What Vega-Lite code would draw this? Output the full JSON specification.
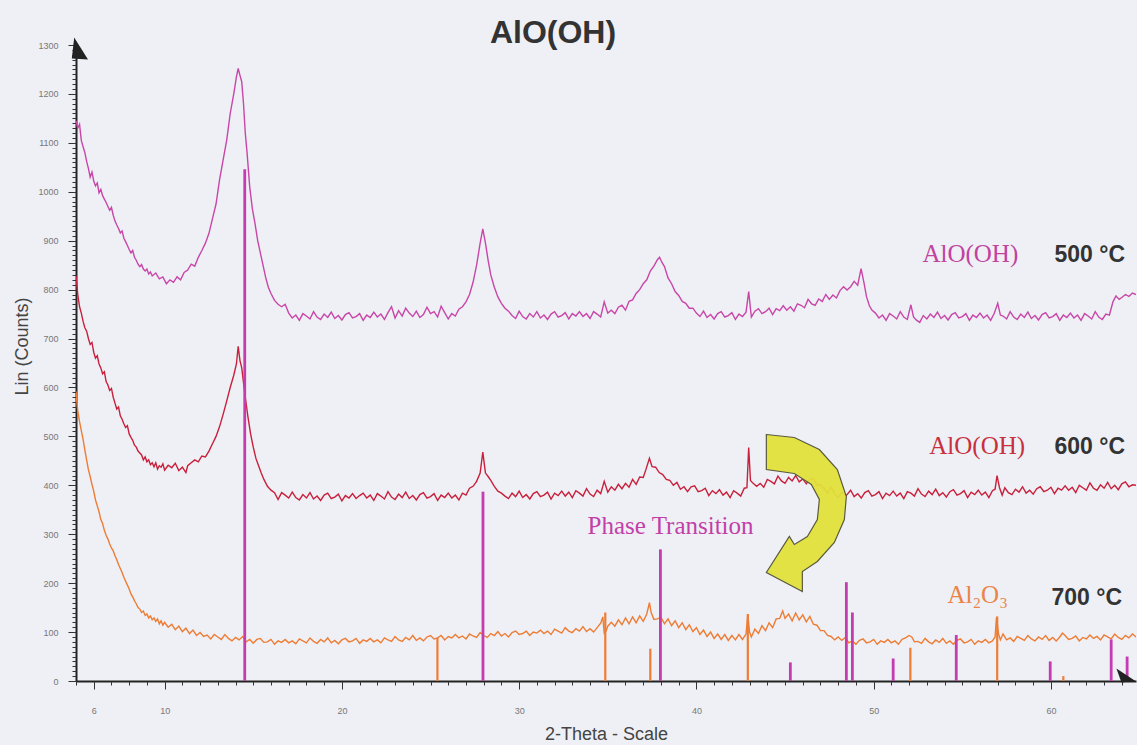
{
  "$schema": "https://vega.github.io/schema/vega-lite/v6.json",
  "width": 1060,
  "height": 636,
  "autosize": "none",
  "padding": {"left": 76, "top": 45, "right": 1, "bottom": 64},
  "background": "#eef0f5",
  "title": {"text": "AlO(OH)", "font": "Liberation Sans", "fontSize": 32, "fontWeight": "bold", "color": "#333333", "anchor": "middle", "frame": "group", "dx": -53, "dy": 13, "offset": 0},
  "config": {"view": {"stroke": null}, "axis": {"grid": false, "labelFont": "Liberation Sans", "titleFont": "Liberation Sans"}},
  "datasets": {
    "s500": [{"x":5,"y":1145},{"x":5.1,"y":1130},{"x":5.2,"y":1138},{"x":5.3,"y":1105},{"x":5.4,"y":1092},{"x":5.5,"y":1080},{"x":5.6,"y":1062},{"x":5.7,"y":1048},{"x":5.8,"y":1030},{"x":5.9,"y":1040},{"x":6.0,"y":1022},{"x":6.1,"y":1012},{"x":6.2,"y":1018},{"x":6.3,"y":998},{"x":6.4,"y":1005},{"x":6.5,"y":992},{"x":6.6,"y":985},{"x":6.7,"y":978},{"x":6.8,"y":970},{"x":6.9,"y":962},{"x":7.0,"y":968},{"x":7.1,"y":952},{"x":7.2,"y":940},{"x":7.3,"y":932},{"x":7.4,"y":925},{"x":7.5,"y":916},{"x":7.6,"y":920},{"x":7.7,"y":905},{"x":7.8,"y":898},{"x":7.9,"y":890},{"x":8.0,"y":882},{"x":8.1,"y":875},{"x":8.2,"y":880},{"x":8.3,"y":866},{"x":8.4,"y":860},{"x":8.5,"y":852},{"x":8.6,"y":847},{"x":8.7,"y":851},{"x":8.8,"y":842},{"x":8.9,"y":838},{"x":9.0,"y":842},{"x":9.1,"y":832},{"x":9.2,"y":836},{"x":9.3,"y":828},{"x":9.5,"y":834},{"x":9.7,"y":822},{"x":9.9,"y":826},{"x":10.1,"y":812},{"x":10.3,"y":820},{"x":10.5,"y":815},{"x":10.7,"y":826},{"x":10.9,"y":820},{"x":11.1,"y":835},{"x":11.3,"y":840},{"x":11.5,"y":852},{"x":11.7,"y":848},{"x":11.9,"y":866},{"x":12.1,"y":880},{"x":12.3,"y":895},{"x":12.5,"y":915},{"x":12.7,"y":945},{"x":12.9,"y":975},{"x":13.1,"y":1025},{"x":13.3,"y":1065},{"x":13.5,"y":1105},{"x":13.7,"y":1160},{"x":13.9,"y":1200},{"x":14.05,"y":1235},{"x":14.15,"y":1252},{"x":14.25,"y":1238},{"x":14.35,"y":1225},{"x":14.45,"y":1180},{"x":14.55,"y":1120},{"x":14.65,"y":1080},{"x":14.8,"y":1010},{"x":14.95,"y":965},{"x":15.1,"y":935},{"x":15.25,"y":900},{"x":15.4,"y":875},{"x":15.55,"y":850},{"x":15.7,"y":825},{"x":15.85,"y":805},{"x":16.0,"y":792},{"x":16.2,"y":778},{"x":16.4,"y":770},{"x":16.6,"y":765},{"x":16.8,"y":770},{"x":17.0,"y":752},{"x":17.2,"y":742},{"x":17.4,"y":748},{"x":17.6,"y":737},{"x":17.8,"y":751},{"x":18.0,"y":746},{"x":18.2,"y":740},{"x":18.4,"y":755},{"x":18.6,"y":744},{"x":18.8,"y":739},{"x":19.0,"y":750},{"x":19.2,"y":743},{"x":19.4,"y":754},{"x":19.6,"y":741},{"x":19.8,"y":747},{"x":20.0,"y":738},{"x":20.2,"y":749},{"x":20.4,"y":753},{"x":20.6,"y":742},{"x":20.8,"y":745},{"x":21.0,"y":751},{"x":21.2,"y":737},{"x":21.4,"y":748},{"x":21.6,"y":743},{"x":21.8,"y":754},{"x":22.0,"y":744},{"x":22.2,"y":750},{"x":22.4,"y":739},{"x":22.6,"y":753},{"x":22.8,"y":765},{"x":23.0,"y":742},{"x":23.2,"y":757},{"x":23.4,"y":746},{"x":23.6,"y":762},{"x":23.8,"y":752},{"x":24.0,"y":745},{"x":24.2,"y":756},{"x":24.4,"y":743},{"x":24.6,"y":749},{"x":24.8,"y":764},{"x":25.0,"y":751},{"x":25.2,"y":755},{"x":25.4,"y":744},{"x":25.6,"y":766},{"x":25.8,"y":753},{"x":26.0,"y":740},{"x":26.2,"y":751},{"x":26.4,"y":746},{"x":26.6,"y":760},{"x":26.8,"y":765},{"x":27.0,"y":775},{"x":27.2,"y":790},{"x":27.4,"y":815},{"x":27.6,"y":850},{"x":27.8,"y":895},{"x":27.95,"y":924},{"x":28.1,"y":895},{"x":28.25,"y":860},{"x":28.4,"y":830},{"x":28.6,"y":805},{"x":28.8,"y":785},{"x":29.0,"y":772},{"x":29.2,"y":762},{"x":29.4,"y":756},{"x":29.6,"y":747},{"x":29.8,"y":741},{"x":30.0,"y":756},{"x":30.2,"y":745},{"x":30.4,"y":740},{"x":30.6,"y":751},{"x":30.8,"y":744},{"x":31.0,"y":755},{"x":31.2,"y":742},{"x":31.4,"y":748},{"x":31.6,"y":739},{"x":31.8,"y":750},{"x":32.0,"y":755},{"x":32.2,"y":744},{"x":32.4,"y":747},{"x":32.6,"y":753},{"x":32.8,"y":740},{"x":33.0,"y":751},{"x":33.2,"y":746},{"x":33.4,"y":755},{"x":33.6,"y":745},{"x":33.8,"y":751},{"x":34.0,"y":741},{"x":34.2,"y":755},{"x":34.4,"y":750},{"x":34.6,"y":744},{"x":34.8,"y":775},{"x":35.0,"y":752},{"x":35.2,"y":758},{"x":35.4,"y":751},{"x":35.6,"y":764},{"x":35.8,"y":768},{"x":36.0,"y":758},{"x":36.2,"y":776},{"x":36.4,"y":779},{"x":36.6,"y":792},{"x":36.8,"y":800},{"x":37.0,"y":812},{"x":37.2,"y":820},{"x":37.4,"y":838},{"x":37.6,"y":848},{"x":37.8,"y":861},{"x":37.92,"y":866},{"x":38.05,"y":856},{"x":38.2,"y":847},{"x":38.4,"y":824},{"x":38.6,"y":812},{"x":38.8,"y":796},{"x":39.0,"y":788},{"x":39.2,"y":776},{"x":39.4,"y":772},{"x":39.6,"y":762},{"x":39.8,"y":762},{"x":40.0,"y":752},{"x":40.2,"y":745},{"x":40.4,"y":756},{"x":40.6,"y":743},{"x":40.8,"y":749},{"x":41.0,"y":740},{"x":41.2,"y":751},{"x":41.4,"y":755},{"x":41.6,"y":744},{"x":41.8,"y":747},{"x":42.0,"y":753},{"x":42.2,"y":739},{"x":42.4,"y":750},{"x":42.6,"y":745},{"x":42.8,"y":754},{"x":42.95,"y":796},{"x":43.1,"y":744},{"x":43.3,"y":756},{"x":43.5,"y":761},{"x":43.7,"y":751},{"x":43.9,"y":755},{"x":44.1,"y":762},{"x":44.3,"y":749},{"x":44.5,"y":761},{"x":44.7,"y":757},{"x":44.9,"y":767},{"x":45.1,"y":758},{"x":45.3,"y":765},{"x":45.5,"y":756},{"x":45.7,"y":771},{"x":45.9,"y":768},{"x":46.1,"y":763},{"x":46.3,"y":780},{"x":46.5,"y":771},{"x":46.7,"y":768},{"x":46.9,"y":781},{"x":47.1,"y":776},{"x":47.3,"y":790},{"x":47.5,"y":780},{"x":47.7,"y":789},{"x":47.9,"y":783},{"x":48.1,"y":798},{"x":48.3,"y":806},{"x":48.5,"y":799},{"x":48.7,"y":806},{"x":48.9,"y":817},{"x":49.1,"y":809},{"x":49.29,"y":843},{"x":49.45,"y":815},{"x":49.6,"y":785},{"x":49.76,"y":767},{"x":49.9,"y":758},{"x":50.1,"y":752},{"x":50.3,"y":742},{"x":50.5,"y":748},{"x":50.7,"y":737},{"x":50.9,"y":751},{"x":51.1,"y":746},{"x":51.3,"y":740},{"x":51.5,"y":755},{"x":51.7,"y":744},{"x":51.9,"y":739},{"x":52.1,"y":769},{"x":52.25,"y":744},{"x":52.4,"y":738},{"x":52.6,"y":733},{"x":52.8,"y":747},{"x":53.0,"y":740},{"x":53.2,"y":750},{"x":53.4,"y":743},{"x":53.6,"y":754},{"x":53.8,"y":741},{"x":54.0,"y":747},{"x":54.2,"y":738},{"x":54.4,"y":749},{"x":54.6,"y":753},{"x":54.8,"y":742},{"x":55.0,"y":745},{"x":55.2,"y":751},{"x":55.4,"y":737},{"x":55.6,"y":748},{"x":55.8,"y":743},{"x":56.0,"y":752},{"x":56.2,"y":742},{"x":56.4,"y":748},{"x":56.6,"y":737},{"x":56.8,"y":751},{"x":57.0,"y":772},{"x":57.15,"y":748},{"x":57.3,"y":746},{"x":57.5,"y":740},{"x":57.7,"y":755},{"x":57.9,"y":744},{"x":58.1,"y":739},{"x":58.3,"y":750},{"x":58.5,"y":743},{"x":58.7,"y":754},{"x":58.9,"y":741},{"x":59.1,"y":747},{"x":59.3,"y":738},{"x":59.5,"y":749},{"x":59.7,"y":753},{"x":59.9,"y":742},{"x":60.1,"y":745},{"x":60.3,"y":751},{"x":60.5,"y":737},{"x":60.7,"y":748},{"x":60.9,"y":743},{"x":61.1,"y":752},{"x":61.3,"y":742},{"x":61.5,"y":748},{"x":61.7,"y":737},{"x":61.9,"y":751},{"x":62.1,"y":746},{"x":62.3,"y":740},{"x":62.5,"y":755},{"x":62.7,"y":744},{"x":62.9,"y":739},{"x":63.1,"y":750},{"x":63.3,"y":748},{"x":63.5,"y":775},{"x":63.67,"y":787},{"x":63.85,"y":780},{"x":64.0,"y":784},{"x":64.2,"y":790},{"x":64.4,"y":786},{"x":64.6,"y":793},{"x":64.8,"y":790}],
    "s600": [{"x":5,"y":828},{"x":5.1,"y":790},{"x":5.2,"y":765},{"x":5.3,"y":752},{"x":5.4,"y":735},{"x":5.5,"y":722},{"x":5.6,"y":715},{"x":5.7,"y":700},{"x":5.8,"y":688},{"x":5.9,"y":692},{"x":6.0,"y":672},{"x":6.1,"y":660},{"x":6.2,"y":665},{"x":6.3,"y":648},{"x":6.4,"y":640},{"x":6.5,"y":628},{"x":6.6,"y":632},{"x":6.7,"y":612},{"x":6.8,"y":605},{"x":6.9,"y":594},{"x":7.0,"y":598},{"x":7.1,"y":580},{"x":7.2,"y":568},{"x":7.3,"y":556},{"x":7.4,"y":560},{"x":7.5,"y":542},{"x":7.6,"y":535},{"x":7.7,"y":526},{"x":7.8,"y":518},{"x":7.9,"y":522},{"x":8.0,"y":505},{"x":8.1,"y":498},{"x":8.2,"y":492},{"x":8.3,"y":482},{"x":8.4,"y":478},{"x":8.5,"y":470},{"x":8.6,"y":466},{"x":8.7,"y":462},{"x":8.8,"y":452},{"x":8.9,"y":458},{"x":9.0,"y":448},{"x":9.1,"y":452},{"x":9.2,"y":442},{"x":9.3,"y":446},{"x":9.4,"y":438},{"x":9.5,"y":446},{"x":9.6,"y":433},{"x":9.7,"y":440},{"x":9.8,"y":437},{"x":9.9,"y":444},{"x":10.0,"y":431},{"x":10.2,"y":441},{"x":10.4,"y":436},{"x":10.6,"y":445},{"x":10.8,"y":430},{"x":11.0,"y":437},{"x":11.2,"y":426},{"x":11.3,"y":440},{"x":11.5,"y":446},{"x":11.7,"y":452},{"x":11.9,"y":448},{"x":12.1,"y":460},{"x":12.3,"y":458},{"x":12.5,"y":470},{"x":12.7,"y":485},{"x":12.9,"y":500},{"x":13.1,"y":520},{"x":13.3,"y":545},{"x":13.5,"y":572},{"x":13.7,"y":600},{"x":13.9,"y":625},{"x":14.05,"y":648},{"x":14.15,"y":684},{"x":14.25,"y":655},{"x":14.35,"y":640},{"x":14.45,"y":610},{"x":14.55,"y":580},{"x":14.7,"y":540},{"x":14.85,"y":505},{"x":15.0,"y":478},{"x":15.15,"y":455},{"x":15.3,"y":440},{"x":15.45,"y":425},{"x":15.6,"y":412},{"x":15.8,"y":398},{"x":16.0,"y":390},{"x":16.2,"y":385},{"x":16.4,"y":371},{"x":16.6,"y":385},{"x":16.8,"y":380},{"x":17.0,"y":374},{"x":17.2,"y":386},{"x":17.4,"y":375},{"x":17.6,"y":370},{"x":17.8,"y":381},{"x":18.0,"y":374},{"x":18.2,"y":385},{"x":18.4,"y":372},{"x":18.6,"y":378},{"x":18.8,"y":369},{"x":19.0,"y":380},{"x":19.2,"y":384},{"x":19.4,"y":373},{"x":19.6,"y":376},{"x":19.8,"y":382},{"x":20.0,"y":368},{"x":20.2,"y":379},{"x":20.4,"y":374},{"x":20.6,"y":383},{"x":20.8,"y":373},{"x":21.0,"y":379},{"x":21.2,"y":384},{"x":21.4,"y":374},{"x":21.6,"y":380},{"x":21.8,"y":369},{"x":22.0,"y":383},{"x":22.2,"y":378},{"x":22.4,"y":372},{"x":22.6,"y":387},{"x":22.8,"y":376},{"x":23.0,"y":371},{"x":23.2,"y":382},{"x":23.4,"y":375},{"x":23.6,"y":386},{"x":23.8,"y":373},{"x":24.0,"y":379},{"x":24.2,"y":370},{"x":24.4,"y":381},{"x":24.6,"y":385},{"x":24.8,"y":374},{"x":25.0,"y":377},{"x":25.2,"y":383},{"x":25.4,"y":369},{"x":25.6,"y":380},{"x":25.8,"y":375},{"x":26.0,"y":384},{"x":26.2,"y":374},{"x":26.4,"y":380},{"x":26.6,"y":370},{"x":26.8,"y":384},{"x":27.0,"y":380},{"x":27.2,"y":394},{"x":27.4,"y":398},{"x":27.6,"y":408},{"x":27.8,"y":425},{"x":27.95,"y":468},{"x":28.1,"y":425},{"x":28.25,"y":418},{"x":28.4,"y":410},{"x":28.6,"y":398},{"x":28.8,"y":388},{"x":29.0,"y":384},{"x":29.2,"y":378},{"x":29.4,"y":373},{"x":29.6,"y":384},{"x":29.8,"y":377},{"x":30.0,"y":388},{"x":30.2,"y":375},{"x":30.4,"y":381},{"x":30.6,"y":372},{"x":30.8,"y":383},{"x":31.0,"y":387},{"x":31.2,"y":377},{"x":31.4,"y":380},{"x":31.6,"y":386},{"x":31.8,"y":372},{"x":32.0,"y":384},{"x":32.2,"y":379},{"x":32.4,"y":388},{"x":32.6,"y":378},{"x":32.8,"y":386},{"x":33.0,"y":375},{"x":33.2,"y":389},{"x":33.4,"y":384},{"x":33.6,"y":378},{"x":33.8,"y":393},{"x":34.0,"y":382},{"x":34.2,"y":377},{"x":34.4,"y":390},{"x":34.6,"y":383},{"x":34.8,"y":408},{"x":35.0,"y":386},{"x":35.2,"y":397},{"x":35.4,"y":390},{"x":35.6,"y":402},{"x":35.8,"y":393},{"x":36.0,"y":404},{"x":36.2,"y":396},{"x":36.4,"y":412},{"x":36.6,"y":402},{"x":36.8,"y":417},{"x":37.0,"y":416},{"x":37.15,"y":432},{"x":37.35,"y":455},{"x":37.5,"y":438},{"x":37.7,"y":437},{"x":37.9,"y":426},{"x":38.1,"y":422},{"x":38.3,"y":412},{"x":38.5,"y":410},{"x":38.7,"y":400},{"x":38.9,"y":406},{"x":39.1,"y":392},{"x":39.3,"y":397},{"x":39.5,"y":387},{"x":39.7,"y":397},{"x":39.9,"y":399},{"x":40.1,"y":387},{"x":40.3,"y":389},{"x":40.5,"y":394},{"x":40.7,"y":379},{"x":40.9,"y":389},{"x":41.1,"y":383},{"x":41.3,"y":391},{"x":41.5,"y":380},{"x":41.7,"y":386},{"x":41.9,"y":375},{"x":42.1,"y":389},{"x":42.3,"y":384},{"x":42.5,"y":378},{"x":42.7,"y":394},{"x":42.85,"y":395},{"x":42.95,"y":477},{"x":43.05,"y":410},{"x":43.2,"y":404},{"x":43.4,"y":398},{"x":43.6,"y":404},{"x":43.8,"y":396},{"x":44.0,"y":412},{"x":44.2,"y":408},{"x":44.4,"y":403},{"x":44.6,"y":419},{"x":44.8,"y":409},{"x":45.0,"y":404},{"x":45.2,"y":416},{"x":45.4,"y":409},{"x":45.6,"y":420},{"x":45.8,"y":407},{"x":46.0,"y":413},{"x":46.2,"y":403},{"x":46.4,"y":413},{"x":46.6,"y":414},{"x":46.8,"y":400},{"x":47.0,"y":401},{"x":47.2,"y":393},{"x":47.4,"y":384},{"x":47.6,"y":396},{"x":47.8,"y":383},{"x":48.0,"y":375},{"x":48.2,"y":386},{"x":48.45,"y":379},{"x":48.7,"y":390},{"x":48.9,"y":377},{"x":49.1,"y":383},{"x":49.3,"y":374},{"x":49.5,"y":385},{"x":49.7,"y":389},{"x":49.9,"y":378},{"x":50.1,"y":381},{"x":50.3,"y":387},{"x":50.5,"y":373},{"x":50.7,"y":384},{"x":50.9,"y":379},{"x":51.1,"y":388},{"x":51.3,"y":378},{"x":51.5,"y":384},{"x":51.7,"y":373},{"x":51.9,"y":387},{"x":52.1,"y":384},{"x":52.3,"y":378},{"x":52.5,"y":393},{"x":52.7,"y":382},{"x":52.9,"y":377},{"x":53.1,"y":388},{"x":53.3,"y":381},{"x":53.5,"y":392},{"x":53.7,"y":379},{"x":53.9,"y":385},{"x":54.1,"y":376},{"x":54.3,"y":387},{"x":54.5,"y":391},{"x":54.7,"y":380},{"x":54.9,"y":383},{"x":55.1,"y":389},{"x":55.3,"y":375},{"x":55.5,"y":386},{"x":55.7,"y":381},{"x":55.9,"y":390},{"x":56.1,"y":380},{"x":56.3,"y":386},{"x":56.5,"y":375},{"x":56.7,"y":389},{"x":56.85,"y":392},{"x":56.96,"y":420},{"x":57.1,"y":395},{"x":57.25,"y":380},{"x":57.4,"y":395},{"x":57.6,"y":385},{"x":57.8,"y":381},{"x":58.0,"y":392},{"x":58.2,"y":386},{"x":58.4,"y":397},{"x":58.6,"y":384},{"x":58.8,"y":390},{"x":59.0,"y":382},{"x":59.2,"y":393},{"x":59.4,"y":397},{"x":59.6,"y":387},{"x":59.8,"y":390},{"x":60.0,"y":396},{"x":60.2,"y":383},{"x":60.4,"y":394},{"x":60.6,"y":390},{"x":60.8,"y":399},{"x":61.0,"y":390},{"x":61.2,"y":396},{"x":61.4,"y":385},{"x":61.6,"y":400},{"x":61.8,"y":395},{"x":62.0,"y":390},{"x":62.2,"y":405},{"x":62.4,"y":394},{"x":62.6,"y":390},{"x":62.8,"y":401},{"x":63.0,"y":394},{"x":63.2,"y":406},{"x":63.4,"y":393},{"x":63.6,"y":400},{"x":63.8,"y":391},{"x":64.0,"y":403},{"x":64.2,"y":407},{"x":64.4,"y":397},{"x":64.6,"y":401},{"x":64.8,"y":400}],
    "s700": [{"x":5,"y":592},{"x":5.05,"y":570},{"x":5.1,"y":552},{"x":5.2,"y":530},{"x":5.3,"y":512},{"x":5.4,"y":494},{"x":5.5,"y":472},{"x":5.6,"y":452},{"x":5.7,"y":432},{"x":5.8,"y":418},{"x":5.9,"y":402},{"x":6.0,"y":388},{"x":6.1,"y":370},{"x":6.2,"y":358},{"x":6.3,"y":346},{"x":6.4,"y":330},{"x":6.5,"y":322},{"x":6.6,"y":308},{"x":6.7,"y":298},{"x":6.8,"y":290},{"x":6.9,"y":280},{"x":7.0,"y":272},{"x":7.1,"y":266},{"x":7.2,"y":256},{"x":7.3,"y":248},{"x":7.4,"y":238},{"x":7.5,"y":230},{"x":7.6,"y":222},{"x":7.7,"y":212},{"x":7.8,"y":204},{"x":7.9,"y":196},{"x":8.0,"y":188},{"x":8.1,"y":178},{"x":8.2,"y":172},{"x":8.3,"y":164},{"x":8.4,"y":158},{"x":8.5,"y":150},{"x":8.6,"y":147},{"x":8.7,"y":140},{"x":8.8,"y":143},{"x":8.9,"y":134},{"x":9.0,"y":137},{"x":9.1,"y":129},{"x":9.2,"y":133},{"x":9.3,"y":125},{"x":9.4,"y":129},{"x":9.5,"y":122},{"x":9.6,"y":127},{"x":9.7,"y":117},{"x":9.8,"y":123},{"x":9.9,"y":114},{"x":10.0,"y":120},{"x":10.2,"y":110},{"x":10.4,"y":116},{"x":10.6,"y":105},{"x":10.8,"y":112},{"x":11.0,"y":101},{"x":11.2,"y":108},{"x":11.4,"y":97},{"x":11.6,"y":104},{"x":11.8,"y":93},{"x":12.0,"y":99},{"x":12.2,"y":91},{"x":12.4,"y":94},{"x":12.6,"y":86},{"x":12.8,"y":95},{"x":13.0,"y":90},{"x":13.2,"y":85},{"x":13.4,"y":95},{"x":13.6,"y":87},{"x":13.8,"y":82},{"x":14.0,"y":89},{"x":14.2,"y":84},{"x":14.4,"y":91},{"x":14.6,"y":80},{"x":14.8,"y":85},{"x":15.0,"y":77},{"x":15.2,"y":85},{"x":15.4,"y":87},{"x":15.6,"y":79},{"x":15.8,"y":80},{"x":16.0,"y":85},{"x":16.2,"y":75},{"x":16.4,"y":82},{"x":16.6,"y":79},{"x":16.8,"y":85},{"x":17.0,"y":78},{"x":17.2,"y":82},{"x":17.4,"y":76},{"x":17.6,"y":86},{"x":17.8,"y":82},{"x":18.0,"y":78},{"x":18.2,"y":88},{"x":18.4,"y":81},{"x":18.6,"y":77},{"x":18.8,"y":85},{"x":19.0,"y":80},{"x":19.2,"y":88},{"x":19.4,"y":78},{"x":19.6,"y":83},{"x":19.8,"y":76},{"x":20.0,"y":84},{"x":20.2,"y":87},{"x":20.4,"y":80},{"x":20.6,"y":82},{"x":20.8,"y":87},{"x":21.0,"y":77},{"x":21.2,"y":84},{"x":21.4,"y":81},{"x":21.6,"y":87},{"x":21.8,"y":80},{"x":22.0,"y":84},{"x":22.2,"y":78},{"x":22.4,"y":88},{"x":22.6,"y":84},{"x":22.8,"y":81},{"x":23.0,"y":91},{"x":23.2,"y":84},{"x":23.4,"y":81},{"x":23.6,"y":89},{"x":23.8,"y":84},{"x":24.0,"y":93},{"x":24.2,"y":83},{"x":24.4,"y":88},{"x":24.6,"y":82},{"x":24.8,"y":90},{"x":25.0,"y":93},{"x":25.2,"y":86},{"x":25.4,"y":88},{"x":25.6,"y":93},{"x":25.8,"y":84},{"x":26.0,"y":91},{"x":26.2,"y":88},{"x":26.4,"y":95},{"x":26.6,"y":88},{"x":26.8,"y":92},{"x":27.0,"y":86},{"x":27.2,"y":96},{"x":27.4,"y":92},{"x":27.6,"y":89},{"x":27.8,"y":99},{"x":28.0,"y":93},{"x":28.2,"y":89},{"x":28.4,"y":97},{"x":28.6,"y":93},{"x":28.8,"y":101},{"x":29.0,"y":92},{"x":29.2,"y":97},{"x":29.4,"y":90},{"x":29.6,"y":99},{"x":29.8,"y":102},{"x":30.0,"y":95},{"x":30.2,"y":97},{"x":30.4,"y":102},{"x":30.6,"y":93},{"x":30.8,"y":100},{"x":31.0,"y":98},{"x":31.2,"y":104},{"x":31.4,"y":97},{"x":31.6,"y":102},{"x":31.8,"y":95},{"x":32.0,"y":106},{"x":32.2,"y":102},{"x":32.4,"y":98},{"x":32.6,"y":109},{"x":32.8,"y":102},{"x":33.0,"y":99},{"x":33.2,"y":107},{"x":33.4,"y":102},{"x":33.6,"y":111},{"x":33.8,"y":101},{"x":34.0,"y":107},{"x":34.2,"y":100},{"x":34.4,"y":109},{"x":34.6,"y":118},{"x":34.72,"y":131},{"x":34.8,"y":98},{"x":34.9,"y":102},{"x":35.0,"y":112},{"x":35.2,"y":120},{"x":35.4,"y":112},{"x":35.6,"y":125},{"x":35.8,"y":115},{"x":36.0,"y":129},{"x":36.2,"y":117},{"x":36.4,"y":131},{"x":36.6,"y":119},{"x":36.8,"y":133},{"x":37.0,"y":122},{"x":37.2,"y":137},{"x":37.35,"y":160},{"x":37.45,"y":140},{"x":37.6,"y":126},{"x":37.8,"y":127},{"x":38.0,"y":130},{"x":38.2,"y":117},{"x":38.4,"y":127},{"x":38.6,"y":113},{"x":38.8,"y":123},{"x":39.0,"y":109},{"x":39.2,"y":119},{"x":39.4,"y":105},{"x":39.6,"y":115},{"x":39.8,"y":101},{"x":40.0,"y":109},{"x":40.2,"y":95},{"x":40.4,"y":104},{"x":40.6,"y":91},{"x":40.8,"y":100},{"x":41.0,"y":87},{"x":41.2,"y":96},{"x":41.4,"y":85},{"x":41.6,"y":95},{"x":41.8,"y":83},{"x":42.0,"y":93},{"x":42.2,"y":84},{"x":42.4,"y":95},{"x":42.6,"y":85},{"x":42.8,"y":96},{"x":42.9,"y":136},{"x":43.0,"y":100},{"x":43.1,"y":90},{"x":43.3,"y":106},{"x":43.5,"y":97},{"x":43.7,"y":113},{"x":43.9,"y":103},{"x":44.1,"y":119},{"x":44.3,"y":109},{"x":44.5,"y":127},{"x":44.7,"y":128},{"x":44.87,"y":143},{"x":45.0,"y":128},{"x":45.2,"y":137},{"x":45.4,"y":123},{"x":45.6,"y":139},{"x":45.8,"y":125},{"x":46.0,"y":135},{"x":46.2,"y":121},{"x":46.4,"y":132},{"x":46.6,"y":116},{"x":46.8,"y":114},{"x":47.0,"y":103},{"x":47.2,"y":103},{"x":47.4,"y":93},{"x":47.6,"y":91},{"x":47.8,"y":84},{"x":48.0,"y":90},{"x":48.2,"y":83},{"x":48.4,"y":89},{"x":48.6,"y":78},{"x":48.8,"y":82},{"x":49.0,"y":75},{"x":49.2,"y":83},{"x":49.4,"y":86},{"x":49.6,"y":78},{"x":49.8,"y":80},{"x":50.0,"y":85},{"x":50.2,"y":75},{"x":50.4,"y":82},{"x":50.6,"y":79},{"x":50.8,"y":85},{"x":51.0,"y":78},{"x":51.2,"y":82},{"x":51.4,"y":75},{"x":51.6,"y":85},{"x":51.8,"y":88},{"x":52.0,"y":93},{"x":52.15,"y":90},{"x":52.3,"y":80},{"x":52.5,"y":81},{"x":52.7,"y":77},{"x":52.9,"y":87},{"x":53.1,"y":80},{"x":53.3,"y":76},{"x":53.5,"y":84},{"x":53.7,"y":79},{"x":53.9,"y":87},{"x":54.1,"y":77},{"x":54.3,"y":82},{"x":54.5,"y":75},{"x":54.7,"y":83},{"x":54.9,"y":86},{"x":55.1,"y":78},{"x":55.3,"y":80},{"x":55.5,"y":85},{"x":55.7,"y":75},{"x":55.9,"y":82},{"x":56.1,"y":79},{"x":56.3,"y":85},{"x":56.5,"y":78},{"x":56.7,"y":82},{"x":56.85,"y":90},{"x":56.93,"y":130},{"x":57.05,"y":95},{"x":57.15,"y":84},{"x":57.3,"y":96},{"x":57.5,"y":84},{"x":57.7,"y":88},{"x":57.9,"y":81},{"x":58.1,"y":91},{"x":58.3,"y":87},{"x":58.5,"y":83},{"x":58.7,"y":93},{"x":58.9,"y":86},{"x":59.1,"y":82},{"x":59.3,"y":90},{"x":59.5,"y":85},{"x":59.7,"y":93},{"x":59.9,"y":83},{"x":60.1,"y":89},{"x":60.3,"y":82},{"x":60.5,"y":90},{"x":60.65,"y":98},{"x":60.8,"y":93},{"x":61.0,"y":85},{"x":61.2,"y":87},{"x":61.4,"y":92},{"x":61.6,"y":82},{"x":61.8,"y":89},{"x":62.0,"y":86},{"x":62.2,"y":94},{"x":62.4,"y":87},{"x":62.6,"y":91},{"x":62.8,"y":84},{"x":63.0,"y":94},{"x":63.2,"y":90},{"x":63.4,"y":86},{"x":63.6,"y":96},{"x":63.8,"y":89},{"x":64.0,"y":85},{"x":64.2,"y":93},{"x":64.4,"y":88},{"x":64.6,"y":96},{"x":64.8,"y":90}],
    "refBoehmite": [{"x":14.52,"h":1046},{"x":27.96,"h":387},{"x":37.97,"h":269},{"x":45.3,"h":38},{"x":48.46,"h":202},{"x":48.8,"h":140},{"x":51.1,"h":46},{"x":54.66,"h":94},{"x":59.96,"h":40},{"x":63.4,"h":85},{"x":64.3,"h":50}],
    "refAlumina": [{"x":25.39,"h":88},{"x":34.86,"h":140},{"x":37.4,"h":66},{"x":42.9,"h":137},{"x":52.07,"h":68},{"x":56.97,"h":132},{"x":60.7,"h":10}],
    "arrow": [{"x":46.09,"y":360.8}],
    "axisTop": [{"x":5,"y":1291}],
    "axisRight": [{"x":64.26,"y":9}],
    "phaseLabels": [{"x":52.75,"y":857,"t":"AlO(OH)","k":"500"},{"x":53.14,"y":463,"t":"AlO(OH)","k":"600"},{"x":54.16,"y":160,"t":"Al₂O₃","k":"700"},{"x":33.86,"y":300,"t":"Phase Transition","k":"pt"}],
    "tempLabels": [{"x":60.2,"y":857,"t":"500 °C"},{"x":60.2,"y":463,"t":"600 °C"},{"x":60.03,"y":156,"t":"700 °C"}]
  },
  "layer": [
    {
      "layer": [
        {
          "data": {"name": "s700"},
          "mark": {"type": "line", "color": "#ee7c34", "strokeWidth": 1.4, "clip": true},
          "encoding": {
            "x": {"field": "x", "type": "quantitative", "scale": {"domain": [5, 64.8], "nice": false, "zero": false},
              "axis": {"values": [6, 10, 20, 30, 40, 50, 60], "format": "d", "tickSize": 8, "tickColor": "#333333", "tickWidth": 1, "domainColor": "#222222", "domainWidth": 2, "labelFontSize": 9, "labelColor": "#777777", "labelPadding": 17, "title": "2-Theta - Scale", "titleFontSize": 18, "titleFontWeight": "normal", "titleColor": "#444444", "titleBaseline": "alphabetic", "titleY": 58}},
            "y": {"field": "y", "type": "quantitative", "scale": {"domain": [0, 1300], "nice": false},
              "axis": {"values": [0, 100, 200, 300, 400, 500, 600, 700, 800, 900, 1000, 1100, 1200, 1300], "format": "d", "tickSize": 8, "tickColor": "#333333", "tickWidth": 1, "domainColor": "#222222", "domainWidth": 2, "labelFontSize": 9, "labelColor": "#777777", "labelPadding": 10, "title": "Lin (Counts)", "titleFontSize": 18, "titleFontWeight": "normal", "titleColor": "#444444", "titleBaseline": "alphabetic", "titleX": -49, "titleY": 301}}
          }
        },
        {
          "data": {"name": "s600"},
          "mark": {"type": "line", "color": "#c8203c", "strokeWidth": 1.4, "clip": true},
          "encoding": {"x": {"field": "x", "type": "quantitative"}, "y": {"field": "y", "type": "quantitative"}}
        },
        {
          "data": {"name": "s500"},
          "mark": {"type": "line", "color": "#c846a8", "strokeWidth": 1.4, "clip": true},
          "encoding": {"x": {"field": "x", "type": "quantitative"}, "y": {"field": "y", "type": "quantitative"}}
        },
        {
          "data": {"name": "refAlumina"},
          "mark": {"type": "rule", "color": "#ee7c34", "strokeWidth": 2.2},
          "encoding": {"x": {"field": "x", "type": "quantitative"}, "y": {"field": "h", "type": "quantitative"}, "y2": {"datum": 0}}
        },
        {
          "data": {"name": "refBoehmite"},
          "mark": {"type": "rule", "color": "#c43cb0", "strokeWidth": 2.8},
          "encoding": {"x": {"field": "x", "type": "quantitative"}, "y": {"field": "h", "type": "quantitative"}, "y2": {"datum": 0}}
        },
        {
          "data": {"name": "arrow"},
          "mark": {"type": "point", "shape": "M-0.475,-0.875 L-0.125,-0.8375 L0.1875,-0.6875 L0.4125,-0.4375 L0.525,-0.1 L0.5,0.1875 L0.375,0.475 L0.1625,0.7125 L-0.025,0.8375 L-0.025,1.0875 L-0.475,0.85 L-0.1875,0.4 L-0.125,0.5 L0.0375,0.4 L0.1625,0.1875 L0.1875,-0.0625 L0.0875,-0.25 L-0.125,-0.3875 L-0.475,-0.4375 Z", "size": 25600, "filled": true, "fill": "#e2e03a", "fillOpacity": 0.95, "stroke": "#5a5a40", "strokeWidth": 1.2, "opacity": 1},
          "encoding": {"x": {"field": "x", "type": "quantitative"}, "y": {"field": "y", "type": "quantitative"}}
        },
        {
          "data": {"name": "axisTop"},
          "mark": {"type": "point", "shape": "M-0.15,-1 L1,0.85 L-0.35,0.75 Z", "size": 576, "filled": true, "fill": "#222222", "opacity": 1, "clip": false},
          "encoding": {"x": {"field": "x", "type": "quantitative"}, "y": {"field": "y", "type": "quantitative"}}
        },
        {
          "data": {"name": "axisRight"},
          "mark": {"type": "point", "shape": "M-1,-0.8 L0.9,0.45 L-0.5,0.6 Z", "size": 400, "filled": true, "fill": "#222222", "opacity": 1, "clip": false},
          "encoding": {"x": {"field": "x", "type": "quantitative"}, "y": {"field": "y", "type": "quantitative"}}
        },
        {
          "data": {"name": "phaseLabels"},
          "mark": {"type": "text", "font": "Liberation Serif", "fontSize": 25, "align": "left", "baseline": "alphabetic"},
          "encoding": {"x": {"field": "x", "type": "quantitative"}, "y": {"field": "y", "type": "quantitative"}, "text": {"field": "t"},
            "color": {"field": "k", "type": "nominal", "legend": null, "scale": {"domain": ["500", "600", "700", "pt"], "range": ["#c2429f", "#c8303c", "#ea8448", "#c23fa8"]}}}
        },
        {
          "data": {"name": "tempLabels"},
          "mark": {"type": "text", "font": "Liberation Sans", "fontSize": 23, "fontWeight": "bold", "align": "left", "baseline": "alphabetic", "color": "#333333"},
          "encoding": {"x": {"field": "x", "type": "quantitative"}, "y": {"field": "y", "type": "quantitative"}, "text": {"field": "t"}}
        }
      ]
    },
    {
      "data": {"name": "refAlumina"},
      "mark": {"type": "point", "opacity": 0},
      "encoding": {
        "x": {"field": "x", "type": "quantitative", "scale": {"domain": [5, 64.8], "nice": false, "zero": false},
          "axis": {"orient": "bottom", "values": [5,6,7,8,9,10,11,12,13,14,15,16,17,18,19,20,21,22,23,24,25,26,27,28,29,30,31,32,33,34,35,36,37,38,39,40,41,42,43,44,45,46,47,48,49,50,51,52,53,54,55,56,57,58,59,60,61,62,63,64], "labels": false, "domain": false, "tickSize": 4, "tickColor": "#333333", "title": null}},
        "y": {"field": "h", "type": "quantitative", "scale": {"domain": [0, 1300], "nice": false},
          "axis": {"orient": "left", "values": [0,10,20,30,40,50,60,70,80,90,100,110,120,130,140,150,160,170,180,190,200,210,220,230,240,250,260,270,280,290,300,310,320,330,340,350,360,370,380,390,400,410,420,430,440,450,460,470,480,490,500,510,520,530,540,550,560,570,580,590,600,610,620,630,640,650,660,670,680,690,700,710,720,730,740,750,760,770,780,790,800,810,820,830,840,850,860,870,880,890,900,910,920,930,940,950,960,970,980,990,1000,1010,1020,1030,1040,1050,1060,1070,1080,1090,1100,1110,1120,1130,1140,1150,1160,1170,1180,1190,1200,1210,1220,1230,1240,1250,1260,1270,1280,1290,1300], "labels": false, "domain": false, "tickSize": 4, "tickColor": "#333333", "title": null}}
      }
    }
  ],
  "resolve": {"scale": {"x": "independent", "y": "independent"}}
}
